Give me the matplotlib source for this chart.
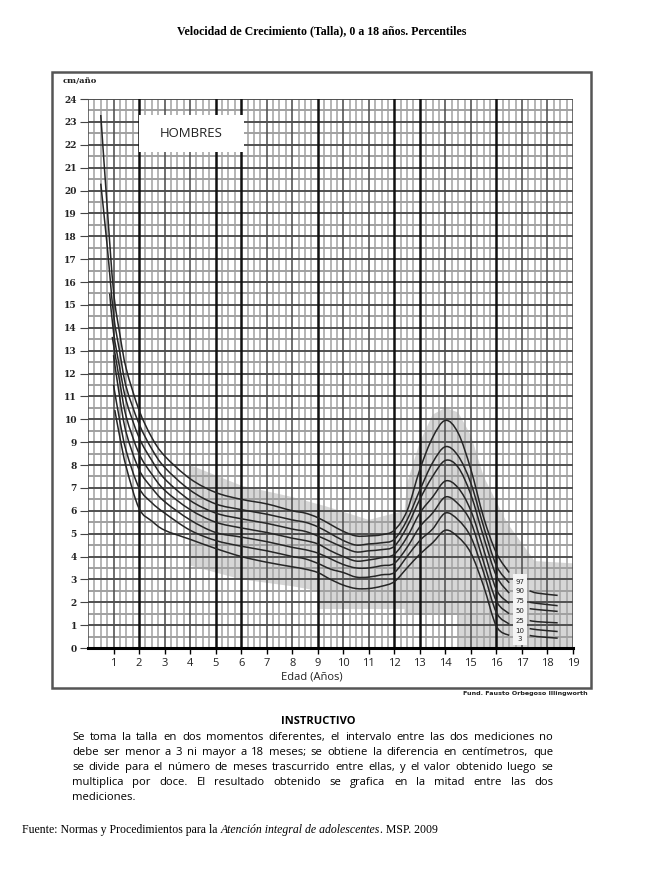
import numpy as np
import matplotlib
matplotlib.use('Agg')
import matplotlib.pyplot as plt
from matplotlib.patches import Rectangle, Polygon, PathPatch
from matplotlib.path import Path

# percentile curves, values (cm/año)
labels = ['97', '90', '75', '50', '25', '10', '3']

ages = [2, 2.5, 3, 4, 5, 6, 7, 8, 8.5, 9, 9.5, 10, 10.5, 11, 11.5, 12,
        12.5, 13, 13.5, 14, 14.5, 15, 15.5, 16, 16.5]
p97 = [10.4, 9.2, 8.4, 7.4, 6.8, 6.5, 6.3, 6.0, 5.9, 5.7, 5.4, 5.1, 4.9, 4.9, 4.95, 5.15,
       6.0, 7.8, 9.2, 9.95, 9.4, 7.8, 5.7, 4.15, 3.3]
p90 = [9.8, 8.7, 7.9, 6.9, 6.3, 6.05, 5.85, 5.6, 5.5, 5.3, 5.0, 4.7, 4.5, 4.55, 4.6, 4.75,
       5.6, 6.9, 8.1, 8.8, 8.4, 7.2, 5.3, 3.6, 2.85]
p75 = [9.2, 8.2, 7.4, 6.45, 5.9, 5.65, 5.45, 5.2, 5.1, 4.9, 4.65, 4.4, 4.2, 4.25, 4.3, 4.45,
       5.3, 6.5, 7.5, 8.2, 7.9, 6.7, 4.85, 3.15, 2.4]
p50 = [8.5, 7.6, 6.9, 6.05, 5.5, 5.25, 5.05, 4.8, 4.7, 4.55, 4.25, 4.0, 3.8, 3.85, 3.95, 4.1,
       4.85, 5.9, 6.6, 7.3, 7.0, 6.0, 4.3, 2.55, 1.95]
p25 = [7.8, 7.0, 6.4, 5.6, 5.05, 4.85, 4.65, 4.4, 4.3, 4.15, 3.9, 3.65, 3.5, 3.5, 3.6, 3.7,
       4.4, 5.3, 5.9, 6.6, 6.3, 5.5, 3.75, 2.05, 1.5]
p10 = [7.0, 6.35, 5.9, 5.15, 4.7, 4.45, 4.25, 4.0, 3.9, 3.7, 3.45, 3.3, 3.1, 3.1, 3.2, 3.3,
       4.0, 4.7, 5.2, 5.9, 5.6, 4.85, 3.3, 1.55, 1.05]
p3 = [6.1, 5.55, 5.15, 4.75, 4.35, 4.0, 3.75, 3.55, 3.45, 3.3, 3.0, 2.75, 2.6, 2.6, 2.7, 2.9,
      3.5, 4.1, 4.6, 5.15, 4.85, 4.15, 2.7, 0.95, 0.55]
main_vals = [p97, p90, p75, p50, p25, p10, p3]

# first months, each curve starts at its own age
early_ages = [[0.5, 0.75, 1.0, 1.25, 1.5],
              [0.5, 0.75, 1.0, 1.25, 1.5],
              [0.85, 1.0, 1.25, 1.5],
              [0.95, 1.25, 1.5],
              [1.0, 1.25, 1.5],
              [1.0, 1.25, 1.5],
              [1.05, 1.25, 1.5]]
early_vals = [[23.3, 19.3, 15.6, 13.7, 12.2],
              [20.3, 17.6, 14.6, 12.9, 11.4],
              [15.5, 13.8, 12.2, 10.8],
              [13.6, 11.6, 10.1],
              [12.8, 10.9, 9.4],
              [11.5, 9.9, 8.6],
              [10.4, 9.2, 7.9]]

# short pieces after the labels (17-18 años)
tail_ages = [17.3, 17.6, 18.4]
tail_vals = [[2.5, 2.4, 2.3],
             [2.0, 1.95, 1.85],
             [1.72, 1.68, 1.6],
             [1.2, 1.15, 1.1],
             [0.85, 0.8, 0.72],
             [0.55, 0.5, 0.43]]
label_vals = [2.9, 2.5, 2.05, 1.6, 1.2, 0.75, 0.4]

# light grey shaded zone behind the curves
shade_x = [4.0, 6, 8, 9.0, 9.0, 12.4, 12.4, 14.5, 14.5, 19, 19, 17.5, 16.4, 15.5, 15.0,
           14.5, 14.0, 13.5, 13.0, 12.5, 12.4, 11, 9.3, 8, 6, 4.0]
shade_y = [3.6, 3.0, 2.7, 2.5, 1.7, 1.7, 1.5, 1.5, 0, 0, 3.7, 3.8, 5.5, 7.5, 9.3,
           10.3, 10.5, 10.2, 9.0, 7.2, 6.0, 5.6, 6.2, 6.6, 7.1, 8.0]

thick_years = [2, 5, 6, 9, 12, 13, 16]


def smooth_path(xs, ys):
    # cubic bezier through the read points (catmull-rom handles)
    p = np.column_stack([xs, ys]).astype(float)
    n = len(p)
    verts = [p[0]]
    codes = [Path.MOVETO]
    for i in range(n - 1):
        a = p[i - 1] if i > 0 else p[i]
        b = p[i + 2] if i + 2 < n else p[i + 1]
        c1 = p[i] + (p[i + 1] - a) / 6.0
        c2 = p[i + 1] - (b - p[i]) / 6.0
        verts += [c1, c2, p[i + 1]]
        codes += [Path.CURVE4] * 3
    return Path(verts, codes)


W, H = 660, 871
fig = plt.figure(figsize=(W / 100, H / 100), dpi=100)
ax = fig.add_axes([88 / W, 1 - 648 / H, (573 - 88) / W, (648 - 99) / H])
ax.set_xlim(0, 19)
ax.set_ylim(0, 24)
for s in ['left', 'right', 'top']:
    ax.spines[s].set_visible(False)
ax.spines['bottom'].set_linewidth(2.2)
ax.spines['bottom'].set_zorder(6)

ax.add_patch(Polygon(np.column_stack([shade_x, shade_y]), closed=True,
                     facecolor='#d6d6d6', edgecolor='none', zorder=0))

# millimetre style grid
for q in np.arange(0, 19.01, 0.25):
    if abs(q - round(q)) < 1e-6:
        if int(round(q)) in thick_years:
            ax.axvline(q, color='#111111', lw=1.8, zorder=2)
        else:
            ax.axvline(q, color='#555555', lw=1.2, zorder=1.5)
    else:
        ax.axvline(q, color='#a8a8a8', lw=1.2, zorder=1)
for h in np.arange(0, 24.01, 0.5):
    if abs(h - round(h)) < 1e-6:
        ax.axhline(h, color='#505050', lw=1.4, zorder=1.5)
    else:
        ax.axhline(h, color='#a0a0a0', lw=1.4, zorder=1)

# HOMBRES box
ax.add_patch(Rectangle((2.0, 21.7), 4.1, 1.6, facecolor='white', edgecolor='none', zorder=3))
ax.text(4.05, 22.5, 'HOMBRES', ha='center', va='center', fontsize=9.5,
        family='Open Sans', color='#222222', zorder=4)

# curves
for i in range(len(labels)):
    pth = smooth_path(early_ages[i] + ages, early_vals[i] + main_vals[i])
    ax.add_patch(PathPatch(pth, facecolor='none', edgecolor='#262626', lw=1.1, zorder=5))
for i in range(len(tail_vals)):
    pth = smooth_path(tail_ages, tail_vals[i])
    ax.add_patch(PathPatch(pth, facecolor='none', edgecolor='#262626', lw=1.1, zorder=5))
ax.add_patch(Rectangle((16.65, 0.15), 0.55, 3.1, facecolor='#f4f4f4', edgecolor='none', zorder=3))
for lab, v in zip(labels, label_vals):
    ax.text(16.92, v, lab, ha='center', va='center', fontsize=5, family='DejaVu Sans',
            color='#222222', zorder=6)

# ticks
ax.set_yticks(range(0, 25))
ax.set_yticklabels([str(i) for i in range(0, 25)], family='DejaVu Serif',
                   fontweight='bold', fontsize=6.5, color='#222222')
ax.tick_params(axis='y', length=6, width=0.8, pad=2, color='#444444')
ax.set_xticks(range(1, 20))
ax.set_xticklabels([str(i) for i in range(1, 20)], family='Open Sans', fontsize=8,
                   color='#222222')
ax.tick_params(axis='x', length=4, width=1.0, pad=3)

fig.text(63 / W, 1 - 81 / H, 'cm/año', fontsize=6, family='DejaVu Serif', fontweight='bold',
         va='center', color='#222222')
fig.text(312 / W, 1 - 677 / H, 'Edad (Años)', fontsize=8, family='Open Sans',
         ha='center', va='center', color='#222222')
fig.text(525 / W, 1 - 694 / H, 'Fund. Fausto Orbegoso Illingworth', fontsize=4.6,
         family='DejaVu Sans', fontweight='bold', ha='center', va='center', color='#222222')

# frame around chart
fig.add_artist(Rectangle((52 / W, 1 - 688 / H), (591 - 52) / W, (688 - 72) / H,
                         transform=fig.transFigure, fill=False, edgecolor='#555555', lw=1.8))

fig.text(322 / W, 1 - 31 / H, 'Velocidad de Crecimiento (Talla), 0 a 18 años. Percentiles',
         fontsize=8.6, family='Liberation Serif', fontweight='bold', ha='center', va='center')

fig.text(318 / W, 1 - 721 / H, 'INSTRUCTIVO', fontsize=8, family='Open Sans',
         fontweight='bold', ha='center', va='center')

instr = ['Se toma la talla en dos momentos diferentes, el intervalo entre las dos mediciones no',
         'debe ser menor a 3 ni mayor a 18 meses; se obtiene la diferencia en centímetros, que',
         'se divide para el número de meses trascurrido entre ellas, y el valor obtenido luego se',
         'multiplica por doce. El resultado obtenido se grafica en la mitad entre las dos',
         'mediciones.']
renderer = fig.canvas.get_renderer()
x0, x1 = 72, 553
fs = 8.1
for k, line in enumerate(instr):
    y = 1 - (737 + k * 15.2) / H
    words = line.split()
    if k == len(instr) - 1:
        fig.text(x0 / W, y, line, fontsize=fs, family='Open Sans', va='center')
        continue
    arts = [fig.text(0, y, w, fontsize=fs, family='Open Sans', va='center') for w in words]
    widths = [a.get_window_extent(renderer).width for a in arts]
    gap = (x1 - x0 - sum(widths)) / (len(words) - 1)
    xp = x0
    for a, wd in zip(arts, widths):
        a.set_x(xp / W)
        xp += wd + gap

fs2 = 8.5
src = fig.text(22 / W, 1 - 830 / H, 'Fuente: Normas y Procedimientos para la ', fontsize=fs2,
               family='Liberation Serif', va='center')
wd = src.get_window_extent(renderer).width
it = fig.text((22 + wd) / W, 1 - 830 / H, 'Atención integral de adolescentes', fontsize=fs2,
              family='Liberation Serif', style='italic', va='center')
wd2 = it.get_window_extent(renderer).width
fig.text((22 + wd + wd2) / W, 1 - 830 / H, '. MSP. 2009', fontsize=fs2,
         family='Liberation Serif', va='center')

fig.savefig('out.png', dpi=100)
